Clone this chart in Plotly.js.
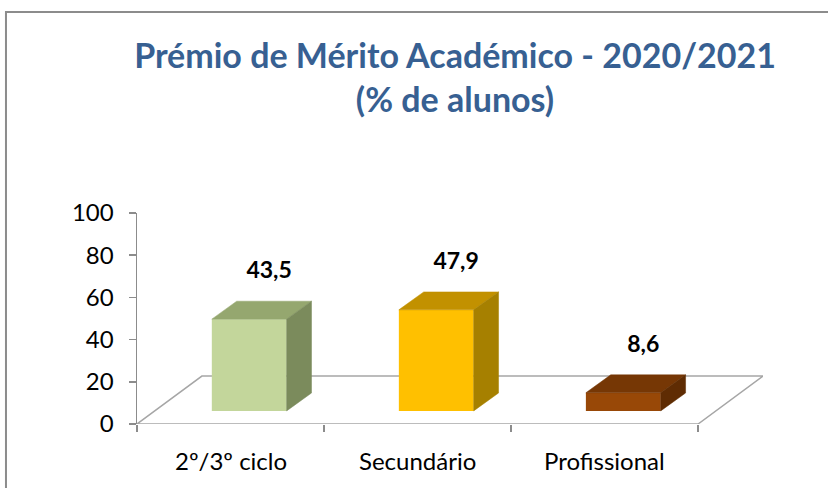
<!DOCTYPE html>
<html><head><meta charset="utf-8">
<script src="https://cdn.plot.ly/plotly-3.0.1.min.js"></script>
<style>html,body{margin:0;padding:0;background:#fff}#chart{width:828px;height:488px}</style>
</head><body><div id="chart"></div>
<script>
// ---- data ----
const categories = ['2º/3º ciclo', 'Secundário', 'Profissional'];
const values = [43.5, 47.9, 8.6];
const frontColors = ['#C3D69B', '#FFC000', '#984807'];
const topColors = ['#95A76F', '#C29100', '#763705'];
const sideColors = ['#7B8B5C', '#A68000', '#5F2C03'];
const yTicks = [0, 20, 40, 60, 80, 100];
const titleText = 'Prémio de Mérito Académico - 2020/2021<br>(% de alunos)';

// ---- pseudo-3D projection constants (layout only) ----
const FLOOR_DX = 0.347, FLOOR_DY = 22.7;
const BAR_DX0 = 0.1, BAR_DY0 = 6.2;
const BAR_W = 0.4, BAR_DX = 0.133, BAR_DY = 8.5;
const XMAX = categories.length + FLOOR_DX;
const FONT = 'Lato, "Open Sans", sans-serif';
const GRAY = '#8C8C8C';

const traces = [];
traces.push({
  type: 'bar',
  x: categories.map((c, i) => i + 0.5 + BAR_DX0),
  y: values,
  base: BAR_DY0,
  width: BAR_W,
  marker: {color: frontColors, line: {width: 0}},
  hoverinfo: 'skip',
  showlegend: false
});
values.forEach((v, i) => {
  const xl = i + 0.5 + BAR_DX0 - BAR_W / 2, xr = xl + BAR_W;
  const yb = BAR_DY0, yt = BAR_DY0 + v;
  traces.push({
    type: 'scatter', mode: 'lines', fill: 'toself',
    x: [xl, xr, xr + BAR_DX, xl + BAR_DX, xl],
    y: [yt, yt, yt + BAR_DY, yt + BAR_DY, yt],
    fillcolor: topColors[i], line: {color: topColors[i], width: 0.5},
    hoverinfo: 'skip', showlegend: false
  });
  traces.push({
    type: 'scatter', mode: 'lines', fill: 'toself',
    x: [xr, xr + BAR_DX, xr + BAR_DX, xr, xr],
    y: [yb, yb + BAR_DY, yt + BAR_DY, yt, yb],
    fillcolor: sideColors[i], line: {color: sideColors[i], width: 0.5},
    hoverinfo: 'skip', showlegend: false
  });
});
traces.push({
  type: 'scatter', mode: 'text',
  x: values.map((v, i) => i + 0.5 + BAR_DX0 + 0.8 * BAR_DX),
  y: values.map(v => BAR_DY0 + v + BAR_DY + 13.5),
  text: values.map(v => v.toFixed(1).replace('.', ',')),
  textposition: 'middle center',
  textfont: {family: FONT, size: 23, color: '#000', weight: 'bold'},
  cliponaxis: false, hoverinfo: 'skip', showlegend: false
});

const layout = {
  width: 828, height: 488,
  margin: {l: 137, r: 828 - 137 - 626, t: 213, b: 64, pad: 0},
  paper_bgcolor: '#fff', plot_bgcolor: 'rgba(0,0,0,0)',
  showlegend: false,
  title: {
    text: titleText,
    font: {family: FONT, size: 34, color: '#376092', weight: 'bold'},
    xref: 'paper', x: 0.508, xanchor: 'center',
    yref: 'container', y: 1 - 68 / 488, yanchor: 'top'
  },
  xaxis: {
    range: [0, XMAX], showline: false, showgrid: false, zeroline: false,
    tickvals: categories.map((c, i) => i).concat([categories.length]),
    ticktext: ['', '', '', ''],
    ticks: 'outside', ticklen: 7, tickwidth: 1.5, tickcolor: GRAY,
    fixedrange: true
  },
  yaxis: {
    range: [0, 100], tickvals: yTicks, ticktext: yTicks.map(String),
    showline: true, linecolor: GRAY, linewidth: 1.5,
    ticks: 'outside', ticklen: 7, tickwidth: 1.5, tickcolor: GRAY,
    ticklabelstandoff: 10,
    showgrid: false, zeroline: false,
    tickfont: {family: FONT, size: 24, color: '#000'},
    fixedrange: true
  },
  shapes: [
    {type: 'rect', xref: 'paper', yref: 'paper', x0: -0.2093, x1: 2, y0: -1, y1: 1.9526,
     line: {color: GRAY, width: 2}, fillcolor: 'rgba(0,0,0,0)', layer: 'below'},
    {type: 'path', xref: 'x', yref: 'y',
     path: `M 0,0 L ${categories.length},0 L ${XMAX},${FLOOR_DY} L ${FLOOR_DX},${FLOOR_DY} Z`,
     fillcolor: '#fff', line: {color: '#A6A6A6', width: 1.5}, layer: 'below'}
  ],
  annotations: categories.map((c, i) => ({
    text: c, x: i + 0.5, xref: 'x', y: -0.171, yref: 'paper',
    xanchor: 'center', yanchor: 'middle', showarrow: false,
    font: {family: FONT, size: 24, color: '#000'}
  }))
};

Plotly.newPlot('chart', traces, layout, {staticPlot: true, displayModeBar: false});
</script>
</body></html>
